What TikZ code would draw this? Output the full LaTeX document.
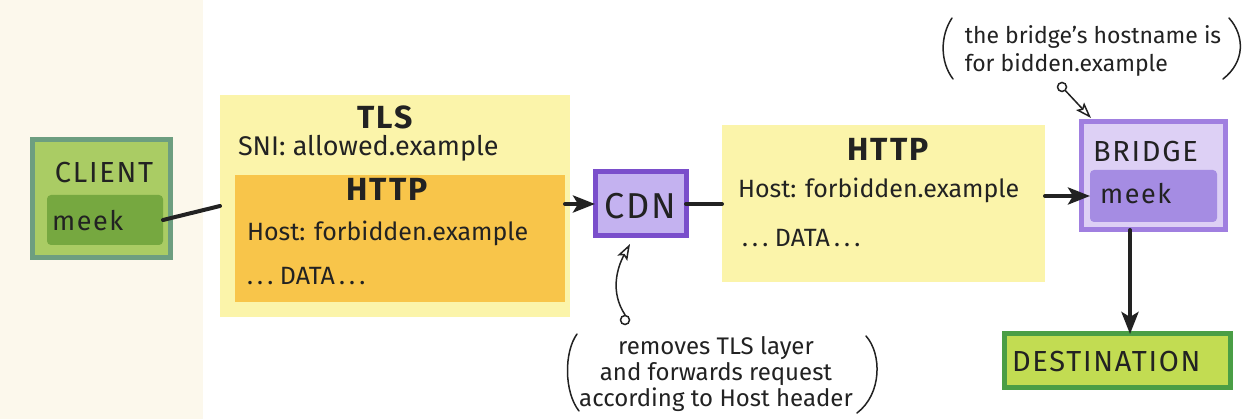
\documentclass[tikz,border=0pt]{standalone}
\usepackage{fontspec}
\setmainfont{Fira Sans}
\usetikzlibrary{arrows.meta,calc}
\definecolor{cream}{HTML}{FCF8EC}
\definecolor{clientfill}{HTML}{AACC64}
\definecolor{clientborder}{HTML}{6D9E80}
\definecolor{meekgreen}{HTML}{76A840}
\definecolor{tlsyellow}{HTML}{FBF4AA}
\definecolor{httporange}{HTML}{F8C54A}
\definecolor{cdnfill}{HTML}{C4B2F0}
\definecolor{cdnborder}{HTML}{7A4ECB}
\definecolor{bridgefill}{HTML}{DDD0F5}
\definecolor{bridgeborder}{HTML}{A07FE0}
\definecolor{bmeekfill}{HTML}{A58CE3}
\definecolor{destfill}{HTML}{C2DC52}
\definecolor{destborder}{HTML}{4A9E45}
\definecolor{ink}{HTML}{222222}
\tikzset{
  box/.style={rectangle, inner sep=0pt, outer sep=0pt},
  lbl/.style={inner sep=0pt, outer sep=0pt, text=ink, font=\fontsize{25}{28}\selectfont},
  meeklbl/.style={lbl, font=\fontsize{27}{30}\selectfont\addfontfeature{LetterSpace=6}},
  caps/.style={lbl, font=\fontsize{29}{32}\selectfont\addfontfeature{LetterSpace=6}},
  boldlbl/.style={lbl, font=\fontsize{32}{34}\selectfont\bfseries\addfontfeature{LetterSpace=6}},
  note/.style={inner sep=0pt, text=ink},
  conn/.style={draw=ink, line width=4pt, line cap=round},
  arr/.style={conn, -{Stealth[length=22pt,width=17pt,inset=5pt]}},
  thin/.style={draw=ink, line width=1.5pt, line cap=round},
  openarr/.style={thin, -{Stealth[open,length=16pt,width=11pt,inset=3pt,fill=white]}},
  dot/.style={circle, draw=ink, line width=1.5pt, fill=white, minimum size=9pt, inner sep=0pt}
}
\begin{document}
\begin{tikzpicture}[x=1pt,y=-1pt]
\useasboundingbox (0,0) rectangle (1248,419);
\fill[white] (0,0) rectangle (1248,419);
\fill[cream] (0,0) rectangle (203,419);

% CLIENT
\node[box, fill=clientfill, draw=clientborder, line width=5pt, minimum width=138pt, minimum height=118pt] (client) at (101,199) {};
\node[box, fill=meekgreen, rounded corners=4pt, minimum width=116pt, minimum height=50pt] (cmeek) at (105,220) {};
\node[caps, anchor=base] (tclient) at (104,183) {CLIENT};
\node[meeklbl, anchor=base west] (tcmeek) at (52,231) {meek};

% TLS + HTTP
\node[box, fill=tlsyellow, minimum width=350pt, minimum height=222pt] (tls) at (395,206) {};
\node[box, fill=httporange, minimum width=330pt, minimum height=127pt] (http1) at (400,238.5) {};
\node[boldlbl, anchor=base] (ttls) at (385,129) {TLS};
\node[lbl, font=\fontsize{27}{30}\selectfont, anchor=base west] (tsni) at (238,156) {SNI: allowed.example};
\node[boldlbl, anchor=base] (thttp1) at (387,201) {HTTP};
\node[lbl, anchor=base west] (thost1) at (247,241) {Host: forbidden.example};
\node[lbl, anchor=base west] (tdata1) at (247,285) {.\,.\,.\ DATA\,.\,.\,.};

% CDN
\node[box, fill=cdnfill, draw=cdnborder, line width=5pt, minimum width=91pt, minimum height=64pt] (cdn) at (640.5,204) {};
\node[lbl, font=\fontsize{36}{38}\selectfont\addfontfeature{LetterSpace=5}] (tcdn) at (640,206) {CDN};

% second HTTP
\node[box, fill=tlsyellow, minimum width=323pt, minimum height=157pt] (http2) at (883.5,203.5) {};
\node[boldlbl, anchor=base] (thttp2) at (888,161) {HTTP};
\node[lbl, anchor=base west] (thost2) at (738,198) {Host: forbidden.example};
\node[lbl, anchor=base west] (tdata2) at (742,247) {.\,.\,.\ DATA\,.\,.\,.};

% BRIDGE
\node[box, fill=bridgefill, draw=bridgeborder, line width=5pt, minimum width=144pt, minimum height=108pt] (bridge) at (1153,176) {};
\node[box, fill=bmeekfill, rounded corners=4pt, minimum width=127pt, minimum height=52pt] (bmeek) at (1153.5,196) {};
\node[caps, anchor=base west] (tbridge) at (1093,162) {BRIDGE};
\node[meeklbl, anchor=base west] (tbmeek) at (1100,204) {meek};

% DESTINATION
\node[box, fill=destfill, draw=destborder, line width=5pt, minimum width=226pt, minimum height=54pt] (dest) at (1117,361) {};
\node[caps, anchor=base west] (tdest) at (1012,372) {DESTINATION};

% connectors
\draw[conn] (cmeek.east) -- (tls.west);
\draw[arr] (http1.east |- cdn.west) -- (cdn.west);
\draw[conn] (cdn.east) -- (http2.west |- cdn.east);
\draw[arr] (http2.east |- bmeek.west) -- (bmeek.west);
\coordinate (dx) at (1130,0);
\draw[arr] (bridge.south -| dx) -- (dest.north -| dx);

% top note
\node[note, font=\fontsize{23}{28}\selectfont, align=left] (note1) at (1093,51) {the bridge's hostname is\\for bidden.example};
\draw[thin] (952,18) .. controls (940,36) and (940,62) .. (953,79);
\draw[thin] (1229,18) .. controls (1245,36) and (1245,62) .. (1223,79);
\node[dot] (c1) at (1062,87) {};
\coordinate (t1) at (1091,118);
\draw[openarr] (c1) -- (t1);

% bottom note
\node[note, font=\fontsize{24}{26}\selectfont, align=center] (note2) at (716,374) {removes TLS layer\\and forwards request\\according to Host header};
\draw[thin] (577,334) .. controls (564,352) and (564,392) .. (579,411);
\draw[thin] (866,336) .. controls (882,354) and (882,394) .. (857,413);
\node[dot] (c2) at (625,320) {};
\coordinate (t2) at (630,244);
\draw[openarr] (c2.north) .. controls (610,292) and (617,268) .. (t2);
\end{tikzpicture}
\end{document}
